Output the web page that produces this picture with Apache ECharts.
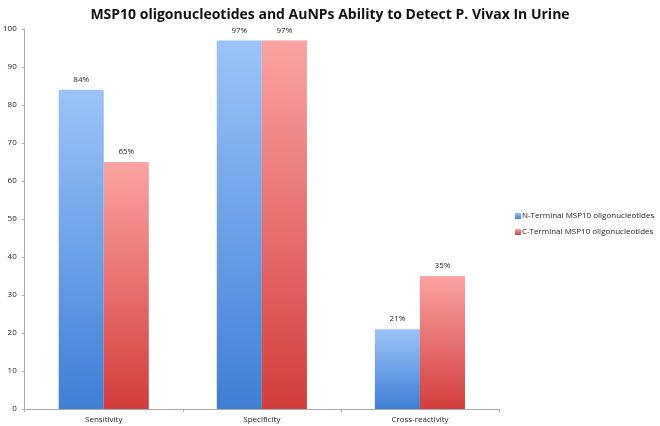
<!DOCTYPE html>
<html>
<head>
<meta charset="utf-8">
<script src="https://cdn.jsdelivr.net/npm/echarts@6/dist/echarts.min.js"></script>
<style>
  html, body { margin: 0; padding: 0; background: #fff; }
  #chart { width: 660px; height: 426px; }
</style>
</head>
<body>
<div id="chart"></div>
<script>
// data
var categories = ['Sensitivity', 'Specificity', 'Cross-reactivity'];
var nTerminal = [84, 97, 21];
var cTerminal = [65, 97, 35];
var seriesNames = ['N-Terminal MSP10 oligonucleotides', 'C-Terminal MSP10 oligonucleotides'];
var yTicks = [0, 10, 20, 30, 40, 50, 60, 70, 80, 90, 100];

var fontFam = '"Open Sans", "DejaVu Sans", sans-serif';

function grad(top, bottom) {
    return new echarts.graphic.LinearGradient(0, 0, 0, 1, [
        { offset: 0, color: top },
        { offset: 1, color: bottom }
    ]);
}

var myChart = echarts.init(document.getElementById('chart'));
myChart.setOption({
    animation: false,
    title: {
        text: 'MSP10 oligonucleotides and AuNPs Ability to Detect P. Vivax In Urine',
        left: 'center',
        top: 3,
        textStyle: { fontFamily: fontFam, fontSize: 14, fontWeight: 'bold', color: '#111' }
    },
    legend: {
        orient: 'vertical',
        left: 515,
        top: 212,
        padding: 0,
        itemWidth: 6,
        itemHeight: 6,
        itemGap: 8,
        icon: 'rect',
        textStyle: { fontFamily: fontFam, fontSize: 8, color: '#222', padding: [0, 0, 0, -4] },
        data: seriesNames
    },
    grid: { left: 22, right: 161, top: 29, bottom: 17 },
    xAxis: {
        type: 'category',
        data: categories,
        axisLine: { lineStyle: { color: '#aaa' } },
        axisTick: { show: true, length: 3, lineStyle: { color: '#aaa' } },
        axisLabel: { fontFamily: fontFam, fontSize: 8, color: '#222', margin: 7 }
    },
    yAxis: {
        type: 'value',
        min: yTicks[0],
        max: yTicks[yTicks.length - 1],
        interval: 10,
        axisLine: { show: true, lineStyle: { color: '#aaa' } },
        axisTick: { show: true, length: 3, lineStyle: { color: '#aaa' } },
        splitLine: { show: false },
        axisLabel: { fontFamily: fontFam, fontSize: 8, color: '#222', margin: 8 }
    },
    series: [
        {
            name: seriesNames[0],
            type: 'bar',
            data: nTerminal,
            barGap: '0%',
            barCategoryGap: '43%',
            itemStyle: { color: grad('#9cc3fa', '#3e7fd4') },
            label: {
                show: true, position: 'top', distance: 6,
                formatter: '{c}%',
                fontFamily: fontFam, fontSize: 8, color: '#222'
            }
        },
        {
            name: seriesNames[1],
            type: 'bar',
            data: cTerminal,
            itemStyle: { color: grad('#faa3a1', '#d33d3b') },
            label: {
                show: true, position: 'top', distance: 6,
                formatter: '{c}%',
                fontFamily: fontFam, fontSize: 8, color: '#222'
            }
        }
    ]
});
</script>
</body>
</html>
